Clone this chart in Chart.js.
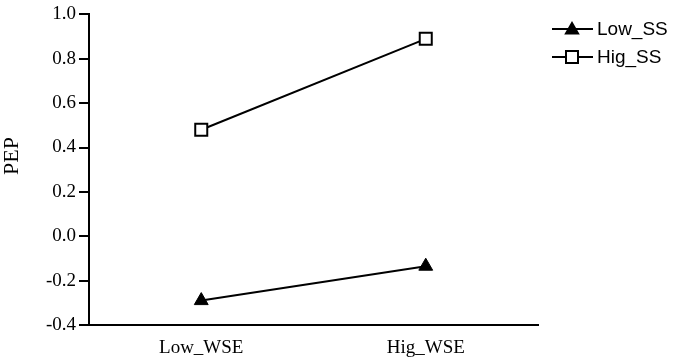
<!DOCTYPE html>
<html>
<head>
    <title>PEP chart</title>
    <script src="https://cdn.jsdelivr.net/npm/chart.js"></script>
    <style>
        body { margin: 0; background: #fff; }
        .chart-container { width: 673px; height: 364px; }
    </style>
</head>
<body>
    <div class="chart-container">
        <canvas id="pepChart"></canvas>
    </div>

    <script>
        const categories = ['Low_WSE', 'Hig_WSE'];
        const lowSS = [-0.29, -0.135];
        const higSS = [0.48, 0.89];
        const seriesNames = ['Low_SS', 'Hig_SS'];
        const yTitle = 'PEP';

        const serif = '"Liberation Serif", "Times New Roman", serif';

        // legend (line + marker) and the y title, drawn by hand
        const extrasPlugin = {
            id: 'extras',
            afterDraw(chart) {
                const ctx = chart.ctx;
                const rows = [
                    { name: seriesNames[0], style: 'triangle', y: 29 },
                    { name: seriesNames[1], style: 'rect', y: 57 }
                ];
                ctx.save();
                rows.forEach(r => {
                    ctx.strokeStyle = '#000';
                    ctx.lineWidth = 2;
                    ctx.beginPath();
                    ctx.moveTo(552, r.y);
                    ctx.lineTo(593, r.y);
                    ctx.stroke();
                    if (r.style === 'triangle') {
                        ctx.fillStyle = '#000';
                        Chart.helpers.drawPoint(ctx, { pointStyle: 'triangle', radius: 7, borderWidth: 1 }, 572, r.y + 1);
                        ctx.fill();
                    } else {
                        ctx.fillStyle = '#fff';
                        ctx.fillRect(566, r.y - 6, 12, 12);
                        ctx.lineWidth = 2;
                        ctx.strokeRect(566, r.y - 6, 12, 12);
                    }
                    ctx.fillStyle = '#000';
                    ctx.font = '19px "Liberation Sans", Arial, sans-serif';
                    ctx.textBaseline = 'middle';
                    ctx.textAlign = 'left';
                    ctx.fillText(r.name, 597, r.y + 1);
                });
                // y axis title
                ctx.translate(12, 156);
                ctx.rotate(-Math.PI / 2);
                ctx.font = '22px ' + serif;
                ctx.textAlign = 'center';
                ctx.textBaseline = 'middle';
                ctx.fillStyle = '#000';
                ctx.fillText(yTitle, 0, 0);
                ctx.restore();
            }
        };

        const ctx = document.getElementById('pepChart').getContext('2d');
        new Chart(ctx, {
            type: 'line',
            data: {
                labels: categories,
                datasets: [{
                    label: seriesNames[0],
                    data: lowSS,
                    borderColor: '#000',
                    backgroundColor: '#000',
                    borderWidth: 2,
                    pointStyle: 'triangle',
                    pointRadius: 8,
                    pointBorderWidth: 1,
                    pointBackgroundColor: '#000'
                }, {
                    label: seriesNames[1],
                    data: higSS,
                    borderColor: '#000',
                    backgroundColor: '#fff',
                    borderWidth: 2,
                    pointStyle: 'rect',
                    pointRadius: 8.5,
                    pointBorderWidth: 2,
                    pointBackgroundColor: '#fff'
                }]
            },
            options: {
                responsive: true,
                maintainAspectRatio: false,
                animation: false,
                layout: { padding: { top: 12, right: 135, left: 0, bottom: 0 } },
                plugins: {
                    legend: { display: false },
                    tooltip: { enabled: false }
                },
                scales: {
                    x: {
                        offset: true,
                        grid: { drawOnChartArea: false, drawTicks: false },
                        border: { display: true, color: '#000', width: 2 },
                        ticks: {
                            color: '#000',
                            padding: 12,
                            font: { family: serif, size: 19 }
                        },
                        afterFit(scale) { scale.height = 39; }
                    },
                    y: {
                        min: -0.4,
                        max: 1.0,
                        ticks: {
                            stepSize: 0.2,
                            color: '#000',
                            padding: 3,
                            font: { family: serif, size: 19 },
                            callback: v => (Math.abs(v) < 1e-9 ? 0 : v).toFixed(1)
                        },
                        grid: { drawOnChartArea: false, drawTicks: true, tickLength: 10, color: '#000', lineWidth: 2 },
                        border: { display: true, color: '#000', width: 2 },
                        afterFit(scale) { scale.width = 89; }
                    }
                }
            },
            plugins: [extrasPlugin]
        });
    </script>
</body>
</html>
